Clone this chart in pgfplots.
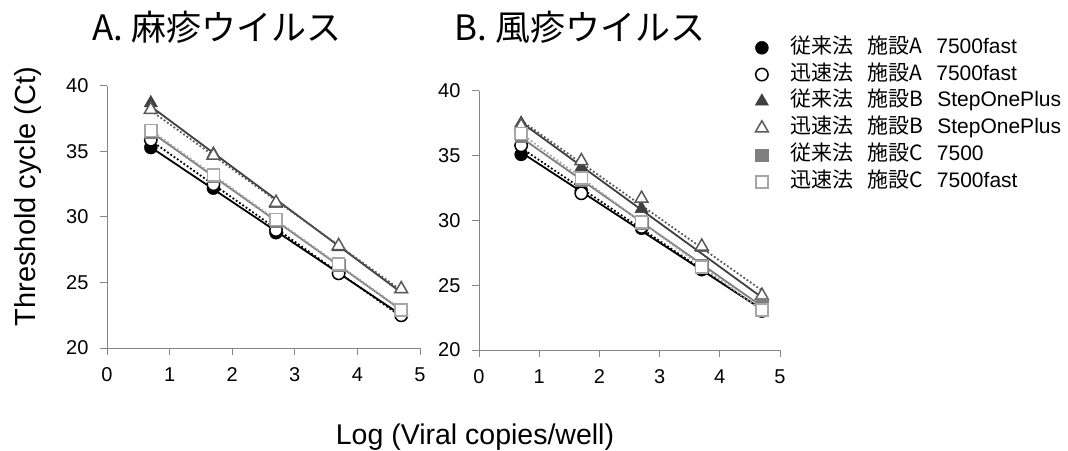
\documentclass[border=0pt]{standalone}
\usepackage{fontspec}
\setmainfont{Liberation Sans}
\newfontfamily\jp{Noto Sans CJK JP}
\usepackage{pgfplots}
\usepackage{pgfplotstable}
\pgfplotsset{compat=1.18}

\definecolor{dgray}{HTML}{404040}
\definecolor{mgray}{HTML}{595959}
\definecolor{sgray}{HTML}{7F7F7F}
\definecolor{lgray}{HTML}{A6A6A6}
\definecolor{axgray}{HTML}{868686}

% Panel A: measles
\pgfplotstableread{
x    c1   c2   c3   c4   c5   c6
0.7  35.3 35.9 38.7 38.2 36.5 36.6
1.7  32.2 32.5 34.8 34.7 33.1 33.2
2.7  28.8 29.0 31.0 31.1 29.7 29.8
3.7  25.8 25.7 27.7 27.8 26.3 26.4
4.7  22.5 22.5 24.5 24.5 22.9 22.9
}\dataA

% Panel B: rubella
\pgfplotstableread{
x    c1   c2   c3   c4   c5   c6
0.7  35.1 35.8 37.5 37.3 36.5 36.7
1.7  32.3 32.1 34.1 34.6 33.1 33.3
2.7  29.4 29.5 30.9 31.7 29.8 29.9
3.7  26.2 26.3 27.9 28.0 26.5 26.4
4.7  23.0 23.1 23.7 24.2 23.5 23.1
}\dataB

\pgfplotsset{
  myax/.style={
    scale only axis,
    xmin=0, xmax=5, ymin=20, ymax=40,
    xtick={0,1,2,3,4,5}, ytick={20,25,30,35,40},
    axis lines=left,
    axis line style={-, axgray, line width=1pt},
    tick align=outside, major tick length=7pt,
    tick style={axgray, line width=1pt},
    tick label style={font=\fontsize{20}{20}\selectfont, text=black},
    xticklabel style={text height=14pt, text depth=0pt, yshift=-9pt},
    yticklabel style={xshift=-8pt},
    /pgf/number format/assume math mode=true,
    clip=false,
  },
  l1/.style={black, line width=1.8pt, no marks},
  l2/.style={black, line width=1.8pt, dash pattern=on 1.8pt off 2.2pt, no marks},
  l3/.style={dgray, line width=1.8pt, no marks},
  l4/.style={mgray, line width=1.8pt, dash pattern=on 1.8pt off 2.2pt, no marks},
  l5/.style={sgray, line width=1.8pt, no marks},
  l6/.style={lgray, line width=1.8pt, dash pattern=on 1.8pt off 2.2pt, no marks},
  m1/.style={only marks, mark=*, mark size=6.5pt, draw=black, fill=black},
  m2/.style={only marks, mark=*, mark size=6.2pt, draw=black, fill=white, line width=1.5pt},
  m3/.style={only marks, mark=triangle*, mark size=7.7pt, draw=dgray, fill=dgray},
  m4/.style={only marks, mark=triangle*, mark size=7.4pt, draw=mgray, fill=white, line width=1.5pt},
  m5/.style={only marks, mark=square*, mark size=6.2pt, draw=sgray, fill=sgray},
  m6/.style={only marks, mark=square*, mark size=6pt, draw=lgray, fill=white, line width=1.5pt},
}

\begin{document}
\begin{tikzpicture}
\path[use as bounding box] (0,0) rectangle (1068pt,450pt);

% ---------- Panel A ----------
\begin{axis}[myax, at={(107pt,102pt)}, anchor=south west, width=313pt, height=262pt]
\addplot[l1] table[x=x, y={create col/linear regression={y=c1}}] {\dataA};
\addplot[l2] table[x=x, y={create col/linear regression={y=c2}}] {\dataA};
\addplot[l3] table[x=x, y={create col/linear regression={y=c3}}] {\dataA};
\addplot[l4] table[x=x, y={create col/linear regression={y=c4}}] {\dataA};
\addplot[l5] table[x=x, y={create col/linear regression={y=c5}}] {\dataA};
\addplot[l6] table[x=x, y={create col/linear regression={y=c6}}] {\dataA};
\addplot[m1] table[x=x, y=c1] {\dataA};
\addplot[m2] table[x=x, y=c2] {\dataA};
\addplot[m3] table[x=x, y=c3] {\dataA};
\addplot[m4] table[x=x, y=c4] {\dataA};
\addplot[m5] table[x=x, y=c5] {\dataA};
\addplot[m6] table[x=x, y=c6] {\dataA};
\end{axis}

% ---------- Panel B ----------
\begin{axis}[myax, at={(479pt,100pt)}, anchor=south west, width=301pt, height=259pt,
  legend style={at={(axis description cs:0.917,1.212)}, anchor=north west,
    draw=none, fill=none, inner sep=0pt,
    font=\fontsize{21}{21}\selectfont,
    nodes={inner sep=1pt, text height=16pt, text depth=5pt, anchor=west},
    row sep=3.8pt,
    /tikz/every odd column/.append style={column sep=21pt}},
  legend cell align=left]
\addplot[l1, forget plot] table[x=x, y={create col/linear regression={y=c1}}] {\dataB};
\addplot[l2, forget plot] table[x=x, y={create col/linear regression={y=c2}}] {\dataB};
\addplot[l3, forget plot] table[x=x, y={create col/linear regression={y=c3}}] {\dataB};
\addplot[l4, forget plot] table[x=x, y={create col/linear regression={y=c4}}] {\dataB};
\addplot[l5, forget plot] table[x=x, y={create col/linear regression={y=c5}}] {\dataB};
\addplot[l6, forget plot] table[x=x, y={create col/linear regression={y=c6}}] {\dataB};
\addplot[m1] table[x=x, y=c1] {\dataB};
\addlegendentry{{\jp 従来法}\hspace{14pt}{\jp 施設A}\hspace{14pt}7500fast}
\addplot[m2] table[x=x, y=c2] {\dataB};
\addlegendentry{{\jp 迅速法}\hspace{14pt}{\jp 施設A}\hspace{14pt}7500fast}
\addplot[m3] table[x=x, y=c3] {\dataB};
\addlegendentry{{\jp 従来法}\hspace{14pt}{\jp 施設B}\hspace{14pt}StepOnePlus}
\addplot[m4] table[x=x, y=c4] {\dataB};
\addlegendentry{{\jp 迅速法}\hspace{14pt}{\jp 施設B}\hspace{14pt}StepOnePlus}
\addplot[m5] table[x=x, y=c5] {\dataB};
\addlegendentry{{\jp 従来法}\hspace{14pt}{\jp 施設C}\hspace{14pt}7500}
\addplot[m6] table[x=x, y=c6] {\dataB};
\addlegendentry{{\jp 迅速法}\hspace{14pt}{\jp 施設C}\hspace{14pt}7500fast}
\end{axis}

% titles and axis labels
\node[font=\fontsize{35}{35}\selectfont\jp] at (217pt,422.5pt) {A. 麻疹ウイルス};
\node[font=\fontsize{35}{35}\selectfont\jp] at (580pt,422.5pt) {B. 風疹ウイルス};
\node[font=\fontsize{29}{29}\selectfont, rotate=90, anchor=base] at (35pt,253.5pt) {Threshold cycle (Ct)};
\node[font=\fontsize{28.5}{28.5}\selectfont, anchor=base] at (475pt,6pt) {Log (Viral copies/well)};
\end{tikzpicture}
\end{document}
